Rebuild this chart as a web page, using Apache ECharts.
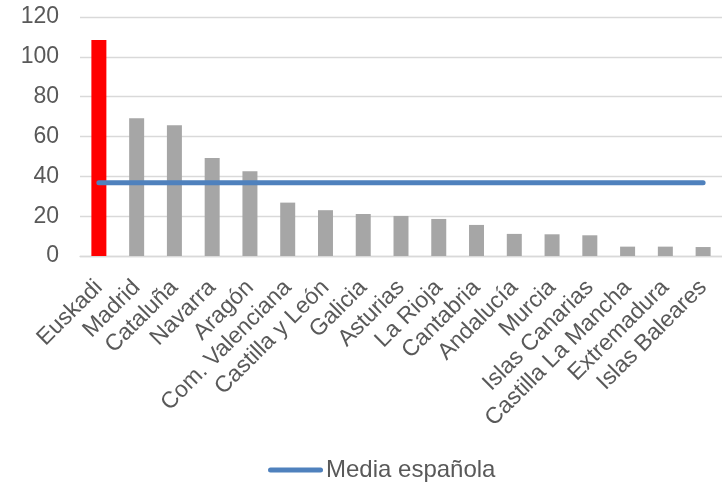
<!DOCTYPE html>
<html>
<head>
<meta charset="utf-8">
<script src="https://cdn.jsdelivr.net/npm/echarts@6/dist/echarts.min.js"></script>
<style>html,body{margin:0;padding:0;background:#fff}#c{width:722px;height:485px}</style>
</head>
<body>
<div id="c"></div>
<script>
const categories = ["Euskadi","Madrid","Cataluña","Navarra","Aragón","Com. Valenciana","Castilla y León","Galicia","Asturias","La Rioja","Cantabria","Andalucía","Murcia","Islas Canarias","Castilla La Mancha","Extremadura","Islas Baleares"];
const values = [108.5, 69.2, 65.7, 49.2, 42.5, 26.8, 23, 21.1, 20.1, 18.6, 15.6, 11.1, 10.9, 10.4, 4.7, 4.7, 4.5];
const mediaEspanola = [36.8, 36.8, 36.8, 36.8, 36.8, 36.8, 36.8, 36.8, 36.8, 36.8, 36.8, 36.8, 36.8, 36.8, 36.8, 36.8, 36.8];
const highlight = "Euskadi";
const yTicks = { min: 0, max: 120, interval: 20 };

const font = "'Liberation Sans', Arial, sans-serif";
const chart = echarts.init(document.getElementById('c'), null, { renderer: 'canvas' });
chart.setOption({
  animation: false,
  textStyle: { fontFamily: font },
  grid: { left: 80, top: 17, width: 646, bottom: 229, containLabel: false },
  legend: {
    data: [{ name: 'Media española', icon: 'path://M2.5,0 L52.5,0 A2.5,2.5 0 0 1 52.5,5 L2.5,5 A2.5,2.5 0 0 1 2.5,0 Z' }],
    top: 458,
    left: 268,
    padding: 0,
    itemWidth: 55,
    itemHeight: 5,
    textStyle: { fontSize: 24, color: '#595959', fontFamily: font, padding: [0, 0, 0, -2] }
  },
  xAxis: {
    type: 'category',
    data: categories,
    boundaryGap: true,
    axisLine: { lineStyle: { color: '#d9d9d9', width: 1.3 } },
    axisTick: { show: false },
    axisLabel: { rotate: 45, interval: 0, fontSize: 23, color: '#595959', margin: 28, fontFamily: font }
  },
  yAxis: {
    type: 'value',
    min: yTicks.min, max: yTicks.max, interval: yTicks.interval,
    axisLine: { show: false },
    axisTick: { show: false },
    splitLine: { lineStyle: { color: '#d9d9d9', width: 1.3 } },
    axisLabel: { fontSize: 23, color: '#595959', margin: 21, fontFamily: font }
  },
  series: [
    {
      type: 'bar',
      name: 'Valor',
      barWidth: 15,
      data: values.map((v, i) => ({
        value: v,
        itemStyle: { color: categories[i] === highlight ? '#ff0000' : '#a6a6a6' }
      }))
    },
    {
      type: 'line',
      name: 'Media española',
      data: mediaEspanola,
      showSymbol: false,
      symbol: 'none',
      lineStyle: { color: '#4f81bd', width: 5, cap: 'round' },
      itemStyle: { color: '#4f81bd' },
      z: 5
    }
  ]
});
</script>
</body>
</html>
